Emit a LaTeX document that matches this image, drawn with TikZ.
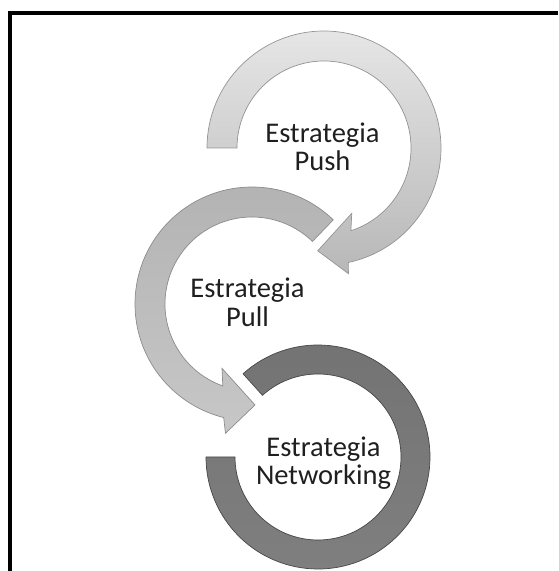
\documentclass[tikz,border=0pt]{standalone}
\usepackage{fontspec}
\setmainfont{Carlito}
\tikzset{
  ringlight/.style={draw=black!42, line width=0.7pt, top color=black!10, bottom color=black!28},
  ringmid/.style={draw=black!45, line width=0.7pt, top color=black!30, bottom color=black!22},
  ringdark/.style={draw=black!72, line width=0.7pt, top color=black!55, bottom color=black!50},
  ringtext/.style={font=\fontsize{28.5}{28.5}\selectfont, text=black!88, align=center, inner sep=0pt}
}

\begin{document}
\begin{tikzpicture}[x=1pt,y=1pt]
			%%%%% START %%%%%
			\useasboundingbox (0,0) rectangle (558,571);
			
			\draw[line width=4pt] (10.3,0) -- (10.3,558) -- (558,558);
			
			% push ring
			\begin{scope}[shift={(324,423)}]
				\draw[ringlight] (180:117) arc[start angle=180, end angle=-78, radius=117] -- (-79:128) -- (-93.5:103) -- (-67:71) -- (-72:87) arc[start angle=-72, end angle=180, radius=87] -- cycle;
			\end{scope}
			
			% pull ring
			\begin{scope}[shift={(252,267)}]
				\draw[ringmid] (46:117) arc[start angle=46, end angle=256, radius=117] -- (258.4:132) -- (271.7:101) -- (245:71) -- (250.4:87) arc[start angle=250.4, end angle=46, radius=87] -- cycle;
			\end{scope}
			
			% networking ring
			\begin{scope}[shift={(318,114)}]
				\draw[ringdark] (132:112) arc[start angle=132, end angle=-180, radius=112] -- (-180:83) arc[start angle=-180, end angle=132, radius=83] -- cycle;
			\end{scope}
			
			\node[ringtext] (push) at (322.5,424) {Estrategia\\Push};
			\node[ringtext] (pull) at (247.5,268.5) {Estrategia\\Pull};
			\node[ringtext] (net) at (323.5,108) {Estrategia\\Networking};
			
			%%%%% END %%%%%
\end{tikzpicture}
\end{document}
